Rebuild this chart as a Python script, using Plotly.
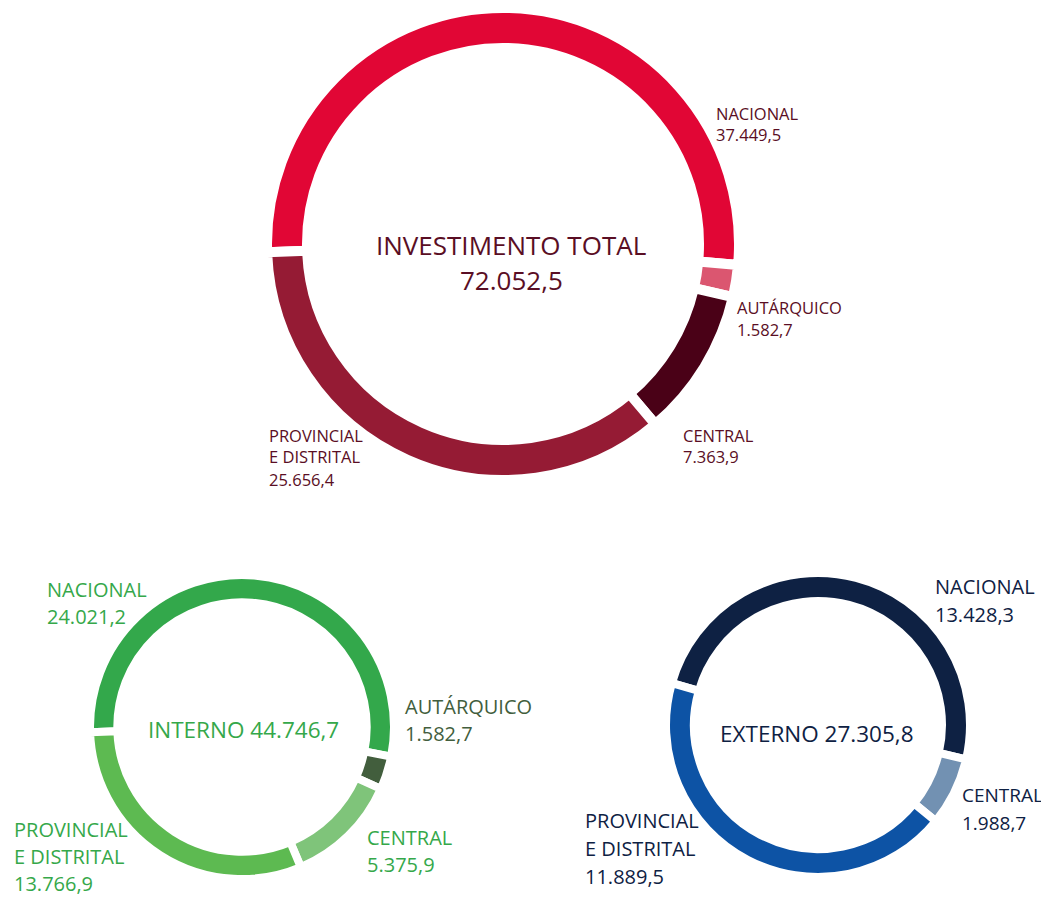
import plotly.graph_objects as go

# ---------------- data ----------------
categories_total = ["NACIONAL", "AUTÁRQUICO", "CENTRAL", "PROVINCIAL E DISTRITAL"]
values_total = [37449.5, 1582.7, 7363.9, 25656.4]
total_investimento = 72052.5

categories_interno = ["NACIONAL", "AUTÁRQUICO", "CENTRAL", "PROVINCIAL E DISTRITAL"]
values_interno = [24021.2, 1582.7, 5375.9, 13766.9]
total_interno = 44746.7

categories_externo = ["NACIONAL", "CENTRAL", "PROVINCIAL E DISTRITAL"]
values_externo = [13428.3, 1988.7, 11889.5]
total_externo = 27305.8

label_lines = {
    "NACIONAL": ["NACIONAL"],
    "AUTÁRQUICO": ["AUTÁRQUICO"],
    "CENTRAL": ["CENTRAL"],
    "PROVINCIAL E DISTRITAL": ["PROVINCIAL", "E DISTRITAL"],
}

# ---------------- styles ----------------
PAGE_W, PAGE_H = 1049, 897
OFF = 8  # default page body margin
W, H = PAGE_W - OFF, PAGE_H - OFF
FONT = "Open Sans"

colors_total = ["#E10635", "#DB5670", "#4A0117", "#951B34"]
colors_interno = ["#33A84B", "#425E3D", "#7FC47A", "#5DBA51"]
colors_externo = ["#0E2143", "#7291B2", "#0D53A5"]

text_total = "#5A0E24"
text_interno = "#35A84A"
text_interno_aut = "#425E3D"
text_externo = "#0E2143"


def fmt(v):
    s = f"{v:,.1f}"
    return s.replace(",", "X").replace(".", ",").replace("X", ".")


def px(x):
    return (x - OFF) / W


def py(y):
    return 1 - (y - OFF) / H


def domain(cx, cy, r):
    return dict(x=[px(cx - r), px(cx + r)], y=[py(cy + r), py(cy - r)])


fig = go.Figure()

# ring geometry (center x, center y, visible outer radius, visible thickness, gap width, rotation)
rings = [
    (categories_total, values_total, colors_total, 503, 244, 231, 30, 10, -92),
    (categories_interno, values_interno, colors_interno, 242, 727, 148, 19.3, 8, -92),
    (categories_externo, values_externo, colors_externo, 818, 725, 148, 20, 8, -74),
]
for cats, vals, cols, cx, cy, R, th, gap, rot in rings:
    Rp = R + gap / 2
    hole = (R - th - gap / 2) / Rp
    fig.add_trace(go.Pie(
        labels=cats, values=vals, sort=False, direction="clockwise", rotation=rot,
        hole=hole, textinfo="none", showlegend=False,
        marker=dict(colors=cols, line=dict(color="white", width=gap)),
        domain=domain(cx, cy, Rp),
    ))

annotations = []


def add_line(text, x, y, color, size, anchor="left"):
    annotations.append(dict(
        text=text, x=px(x), y=py(y), xref="paper", yref="paper",
        xanchor=anchor, yanchor="middle", showarrow=False,
        font=dict(family=FONT, size=size, color=color),
    ))


def add_label(cat, val, x, y0, dy, color, size):
    lines = label_lines[cat] + [fmt(val)]
    for i, t in enumerate(lines):
        add_line(t, x, y0 + i * dy, color, size)


# top ring labels
pos_total = {"NACIONAL": (714, 113), "AUTÁRQUICO": (735, 307), "CENTRAL": (681, 435),
             "PROVINCIAL E DISTRITAL": (267, 435)}
for c, v in zip(categories_total, values_total):
    x, y = pos_total[c]
    add_label(c, v, x, y, 22, text_total, 16.5)
add_line("INVESTIMENTO TOTAL", 511, 245, text_total, 26, "center")
add_line(fmt(total_investimento), 511, 280, text_total, 26, "center")

# bottom-left ring labels
pos_interno = {"NACIONAL": (45, 589), "AUTÁRQUICO": (403, 706), "CENTRAL": (365, 837),
               "PROVINCIAL E DISTRITAL": (12, 829)}
for c, v in zip(categories_interno, values_interno):
    x, y = pos_interno[c]
    col = text_interno_aut if c == "AUTÁRQUICO" else text_interno
    add_label(c, v, x, y, 27, col, 20)
add_line("INTERNO " + fmt(total_interno), 243, 729, text_interno, 22.5, "center")

# bottom-right ring labels
pos_externo = {"NACIONAL": (933, 586), "CENTRAL": (960, 795), "PROVINCIAL E DISTRITAL": (583, 820)}
size_externo = {"NACIONAL": 20, "CENTRAL": 19, "PROVINCIAL E DISTRITAL": 20}
for c, v in zip(categories_externo, values_externo):
    x, y = pos_externo[c]
    add_label(c, v, x, y, 28, text_externo, size_externo[c])
add_line("EXTERNO " + fmt(total_externo), 817, 733, text_externo, 22.5, "center")

fig.update_layout(
    width=W, height=H, margin=dict(l=0, r=0, t=0, b=0),
    paper_bgcolor="white", plot_bgcolor="white",
    annotations=annotations, font=dict(family=FONT),
)

fig.write_html("out.html")
